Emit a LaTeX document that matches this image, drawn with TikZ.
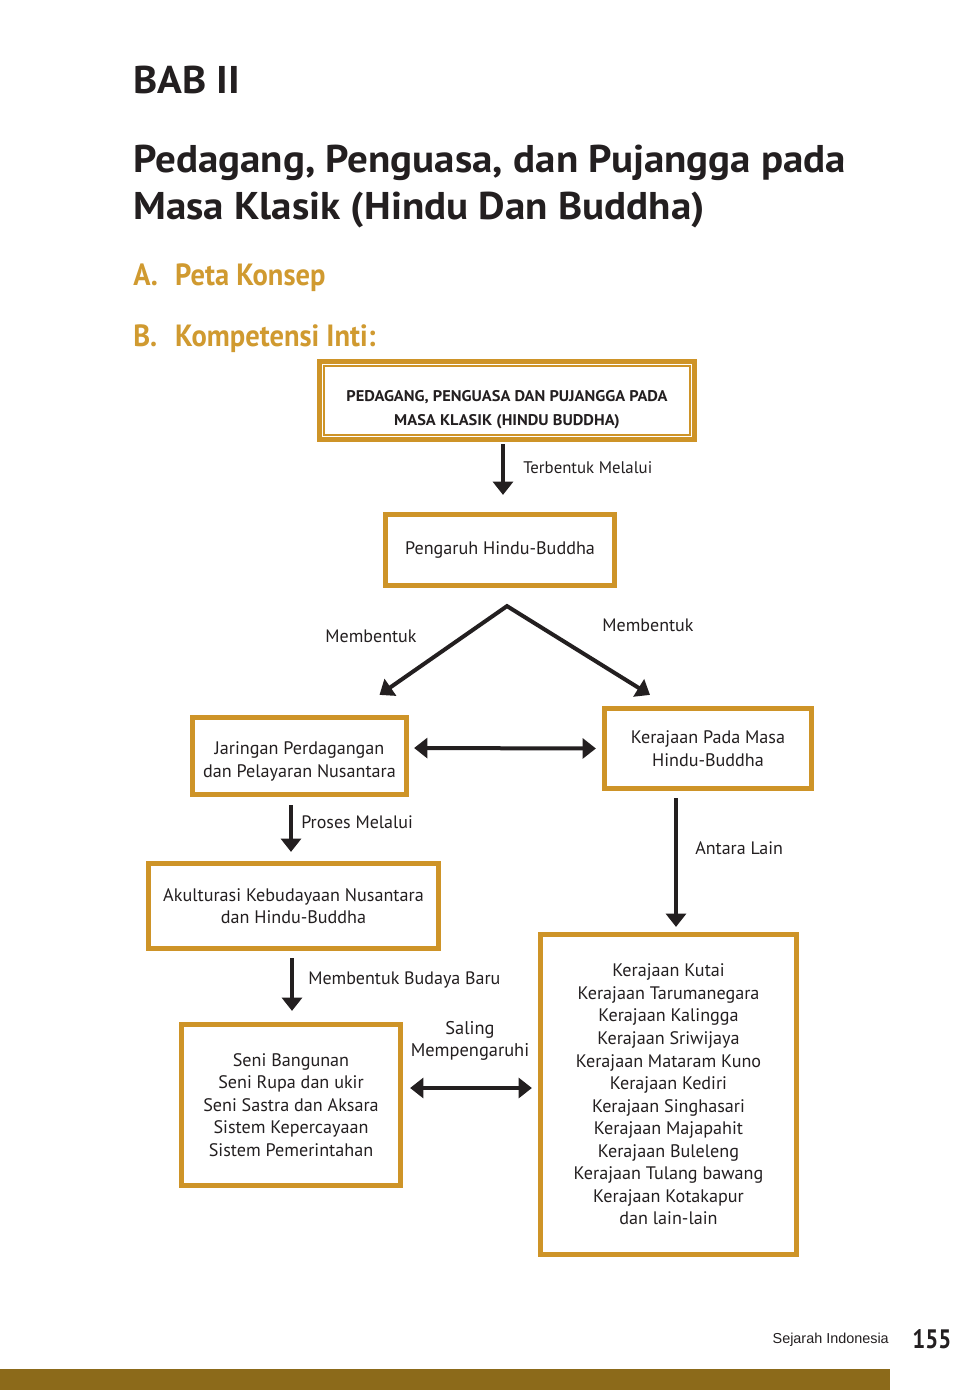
\documentclass[tikz,border=0pt]{standalone}
\usepackage{fontspec}
\setmainfont{PT Sans}
\newfontfamily\headfont[FakeStretch=1.06]{PT Sans}
\newfontfamily\subfont[FakeStretch=0.93]{PT Sans}
\newfontfamily\narrowfont[FakeStretch=0.86]{PT Sans}
\newfontfamily\footfont{Liberation Sans}
\usetikzlibrary{arrows.meta,calc}
\definecolor{gold}{HTML}{CE9428}
\definecolor{headgold}{HTML}{D09A30}
\definecolor{barcol}{HTML}{8C6A1A}
\definecolor{ink}{HTML}{231F20}
\begin{document}
\begin{tikzpicture}[x=0.75pt,y=-0.75pt,
  kbox/.style={draw=gold, line width=3.9pt, fill=white, align=center, inner sep=2pt,
    font=\fontsize{13.6}{16.9}\selectfont, text=ink},
  arr/.style={draw=ink, line width=3pt, -{Triangle[length=10pt,width=15pt]}},
  darr/.style={draw=ink, line width=3pt, {Triangle[length=10pt,width=15pt]}-{Triangle[length=10pt,width=15pt]}},
  lbl/.style={font=\fontsize{13.5}{16.9}\selectfont, text=ink, inner sep=0pt, align=center},
  head/.style={anchor=base west, inner sep=0pt, font=\headfont\bfseries\fontsize{29}{35}\selectfont, text=ink},
  sub/.style={anchor=base west, inner sep=0pt, font=\subfont\bfseries\fontsize{23}{28}\selectfont, text=headgold},
]
\fill[white] (0,0) rectangle (959,1390);
\useasboundingbox (0,0) rectangle (959,1390);

% headings
\node[head] (bab) at (133,93) {BAB II};
\node[head] (t1) at (133,172) {Pedagang, Penguasa, dan Pujangga pada};
\node[head] (t2) at (133,219) {Masa Klasik (Hindu Dan Buddha)};
\node[sub] (ha) at (133,285) {\makebox[31.5pt][l]{A.}Peta Konsep};
\node[sub] (hb) at (133,346) {\makebox[31.5pt][l]{B.}Kompetensi Inti:};

% boxes
\node[kbox, minimum width=281.25pt, minimum height=58.5pt] (b1) at (507,400.5) {};
\draw[gold, line width=1.2pt] ($(b1.north west)+(7,7)$) rectangle ($(b1.south east)+(-7,-7)$);
\node[align=center, inner sep=0pt, text=ink, font=\headfont\bfseries\fontsize{11.6}{18}\selectfont] (b1txt) at (507,410)
  {PEDAGANG, PENGUASA DAN PUJANGGA PADA\\MASA KLASIK (HINDU BUDDHA)};

\node[kbox, minimum width=171.75pt, minimum height=53.25pt] (b2) at (500,550) {Pengaruh Hindu-Buddha};
\node[kbox, minimum width=160.5pt, minimum height=57.75pt] (b3) at (299.5,756) {\rule{0pt}{18pt}Jaringan Perdagangan\\dan Pelayaran Nusantara};
\node[kbox, minimum width=155.25pt, minimum height=60pt] (b4) at (708,748.5) {Kerajaan Pada Masa\\Hindu-Buddha};
\node[kbox, minimum width=217.5pt, minimum height=63.75pt] (b5) at (293.5,906) {Akulturasi Kebudayaan Nusantara\\dan Hindu-Buddha};
\node[kbox, minimum width=164.25pt, minimum height=120.75pt] (b6) at (291,1105)
  {Seni Bangunan\\Seni Rupa dan ukir\\Seni Sastra dan Aksara\\Sistem Kepercayaan\\Sistem Pemerintahan};
\node[kbox, minimum width=192pt, minimum height=240pt] (b7) at (668.5,1094.5)
  {Kerajaan Kutai\\Kerajaan Tarumanegara\\Kerajaan Kalingga\\Kerajaan Sriwijaya\\Kerajaan Mataram Kuno\\Kerajaan Kediri\\Kerajaan Singhasari\\Kerajaan Majapahit\\Kerajaan Buleleng\\Kerajaan Tulang bawang\\Kerajaan Kotakapur\\dan lain-lain};

% connectors
\draw[arr] ($(b1.south)+(-4,2)$) -- ($(b2.north)+(3,-17)$);
\node[lbl, anchor=west, font=\fontsize{12.6}{16.9}\selectfont] (l1) at (523,468) {Terbentuk Melalui};

\coordinate (apex) at ($(b2.south)+(7,18)$);
\draw[draw=ink, line width=3pt, line join=miter, {Triangle[length=10pt,width=15pt]}-{Triangle[length=10pt,width=15pt]}]
  ($(b3.north)+(80,-20)$) -- (apex) -- ($(b4.north)+(-58,-11)$);
\node[lbl] (l2) at (371,636) {Membentuk};
\node[lbl] (l3) at (648,625) {Membentuk};

\draw[darr] ($(b3.east)+(5,-8)$) -- ($(b4.west)+(-6,0)$);

\draw[arr] ($(b3.south)+(-8.5,8)$) -- ($(b5.north)+(-2.5,-9)$);
\node[lbl, anchor=west] (l4) at (301,822) {Proses Melalui};

\draw[arr] ($(b4.south)+(-32,7)$) -- ($(b7.north)+(7.5,-5)$);
\node[lbl, anchor=west] (l5) at (695,848) {Antara Lain};

\draw[arr] ($(b5.south)+(-1.5,7)$) -- ($(b6.north)+(1,-11)$);
\node[lbl, anchor=west] (l6) at (308,980) {Membentuk Budaya Baru};

\draw[darr] ($(b6.east)+(7,-17)$) -- ($(b7.west)+(-6,-6.5)$);
\node[lbl, font=\fontsize{13.8}{16.9}\selectfont] (l7) at (470,1041) {Saling\\Mempengaruhi};

% footer
\node[anchor=base east, inner sep=0pt, font=\footfont\fontsize{10.8}{12}\selectfont, text=ink] (ft) at (889,1343) {Sejarah Indonesia};
\node[anchor=base west, inner sep=0pt, font=\narrowfont\bfseries\fontsize{20}{24}\selectfont, text=ink] (pg) at (912,1348) {155};
\fill[barcol] (0,1369) rectangle (890,1390);
\end{tikzpicture}
\end{document}
